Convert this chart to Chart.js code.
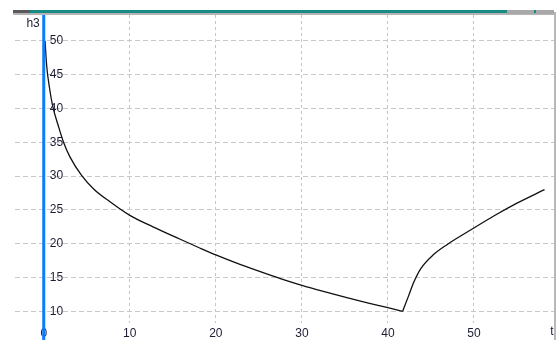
<!DOCTYPE html>
<html>
<head>
<meta charset="utf-8">
<script src="https://cdn.jsdelivr.net/npm/chart.js@4"></script>
<style>
  html, body { margin: 0; padding: 0; background: #fff; overflow: hidden; }
  #wrap { position: relative; width: 557px; height: 340px; overflow: hidden; }
  #chart { position: absolute; left: 0; top: 0; }
  .bar { position: absolute; }
</style>
</head>
<body>
<div id="wrap">
  <canvas id="chart" width="557" height="345"></canvas>
  <div class="bar" style="left:13px;top:13px;width:541px;height:2px;background:#b4b4b4"></div>
  <div class="bar" style="left:13px;top:10px;width:17px;height:3px;background:#5a5a5a"></div>
  <div class="bar" style="left:30px;top:10px;width:477px;height:3px;background:#178a84"></div>
  <div class="bar" style="left:507px;top:10px;width:47px;height:4px;background:#a8a8a8"></div>
  <div class="bar" style="left:534px;top:10px;width:2px;height:3px;background:#178a84"></div>
  <div class="bar" style="left:554px;top:12px;width:2px;height:328px;background:#b8b8b8"></div>
</div>
<script>
// level h3 over time t
// falling part (tank draining) up to the minimum
const tFall = [0.15, 0.35, 0.65, 1.05, 1.7, 2.3, 3.06, 4.4, 5.8, 7.7, 10, 12.7, 15.8,
  18, 20, 22.5, 25, 27.5, 30, 32.5, 35, 37.5, 40, 41.7];
const hFall = [50, 46.2, 43.2, 40.3, 37.4, 35.0, 32.8, 30.1, 28.1, 26.2, 24.2, 22.5, 20.7,
  19.45, 18.35, 17.1, 15.95, 14.85, 13.85, 12.95, 12.1, 11.3, 10.55, 10.0];
// rising part after the minimum
const tRise = [41.7, 42.4, 43, 43.8, 45.3, 46.9, 49.7, 52.3, 55, 58.2];
const hRise = [10.0, 12.3, 14.3, 16.3, 18.4, 19.9, 22.1, 24.1, 26.0, 28.0];
const xTicks = [0, 10, 20, 30, 40, 50];
const yTicks = [10, 15, 20, 25, 30, 35, 40, 45, 50];

const toPoints = (ts, hs) => ts.map((t, i) => ({ x: t, y: hs[i] }));
const fontFamily = '"Liberation Sans", Arial, sans-serif';
const labelFont = "12px " + fontFamily;
const textColor = "#1c1c34";

// y labels sit just right of the x=0 axis, axis names at the ends
const axisDecor = {
  id: "axisDecor",
  afterDatasetsDraw(chart) {
    const { ctx, chartArea, scales } = chart;
    const x0 = scales.x.getPixelForValue(0);
    ctx.save();
    ctx.strokeStyle = "#0a7cff";
    ctx.lineWidth = 3;
    ctx.beginPath();
    ctx.moveTo(x0, chartArea.top);
    ctx.lineTo(x0, chart.height);
    ctx.stroke();

    ctx.font = labelFont;
    ctx.fillStyle = textColor;
    ctx.textAlign = "left";
    ctx.textBaseline = "middle";
    yTicks.forEach((v) => {
      ctx.fillText(String(v), x0 + 6, scales.y.getPixelForValue(v));
    });
    ctx.textAlign = "right";
    ctx.fillText("h3", x0 - 4, chartArea.top + 9);
    ctx.textAlign = "center";
    ctx.textBaseline = "top";
    ctx.fillText("t", chartArea.right - 2, chartArea.bottom + 3);
    ctx.restore();
  },
};

const lineStyle = {
  borderColor: "#111",
  borderWidth: 1.3,
  pointRadius: 0,
  cubicInterpolationMode: "monotone",
  fill: false,
};

new Chart(document.getElementById("chart"), {
  type: "line",
  data: {
    datasets: [
      { ...lineStyle, data: toPoints(tFall, hFall) },
      { ...lineStyle, data: toPoints(tRise, hRise) },
    ],
  },
  options: {
    responsive: false,
    animation: false,
    layout: { padding: { left: 15, right: 3, top: 15, bottom: 0 } },
    plugins: { legend: { display: false }, tooltip: { enabled: false } },
    scales: {
      x: {
        type: "linear",
        min: -3.34,
        max: 59.3,
        afterBuildTicks: (scale) => {
          scale.ticks = xTicks.map((v) => ({ value: v }));
        },
        grid: { color: "#c4c4c4", lineWidth: 1, drawTicks: false },
        border: { display: false, dash: [3, 3] },
        ticks: {
          color: textColor,
          font: { family: fontFamily, size: 12 },
          padding: 4,
          maxRotation: 0,
        },
      },
      y: {
        type: "linear",
        min: 8.35,
        max: 53.8,
        afterBuildTicks: (scale) => {
          scale.ticks = yTicks.map((v) => ({ value: v }));
        },
        grid: { color: "#c8c8c8", lineWidth: 1, drawTicks: false },
        border: { display: false, dash: [5, 3] },
        ticks: { display: false },
      },
    },
  },
  plugins: [axisDecor],
});
</script>
</body>
</html>
